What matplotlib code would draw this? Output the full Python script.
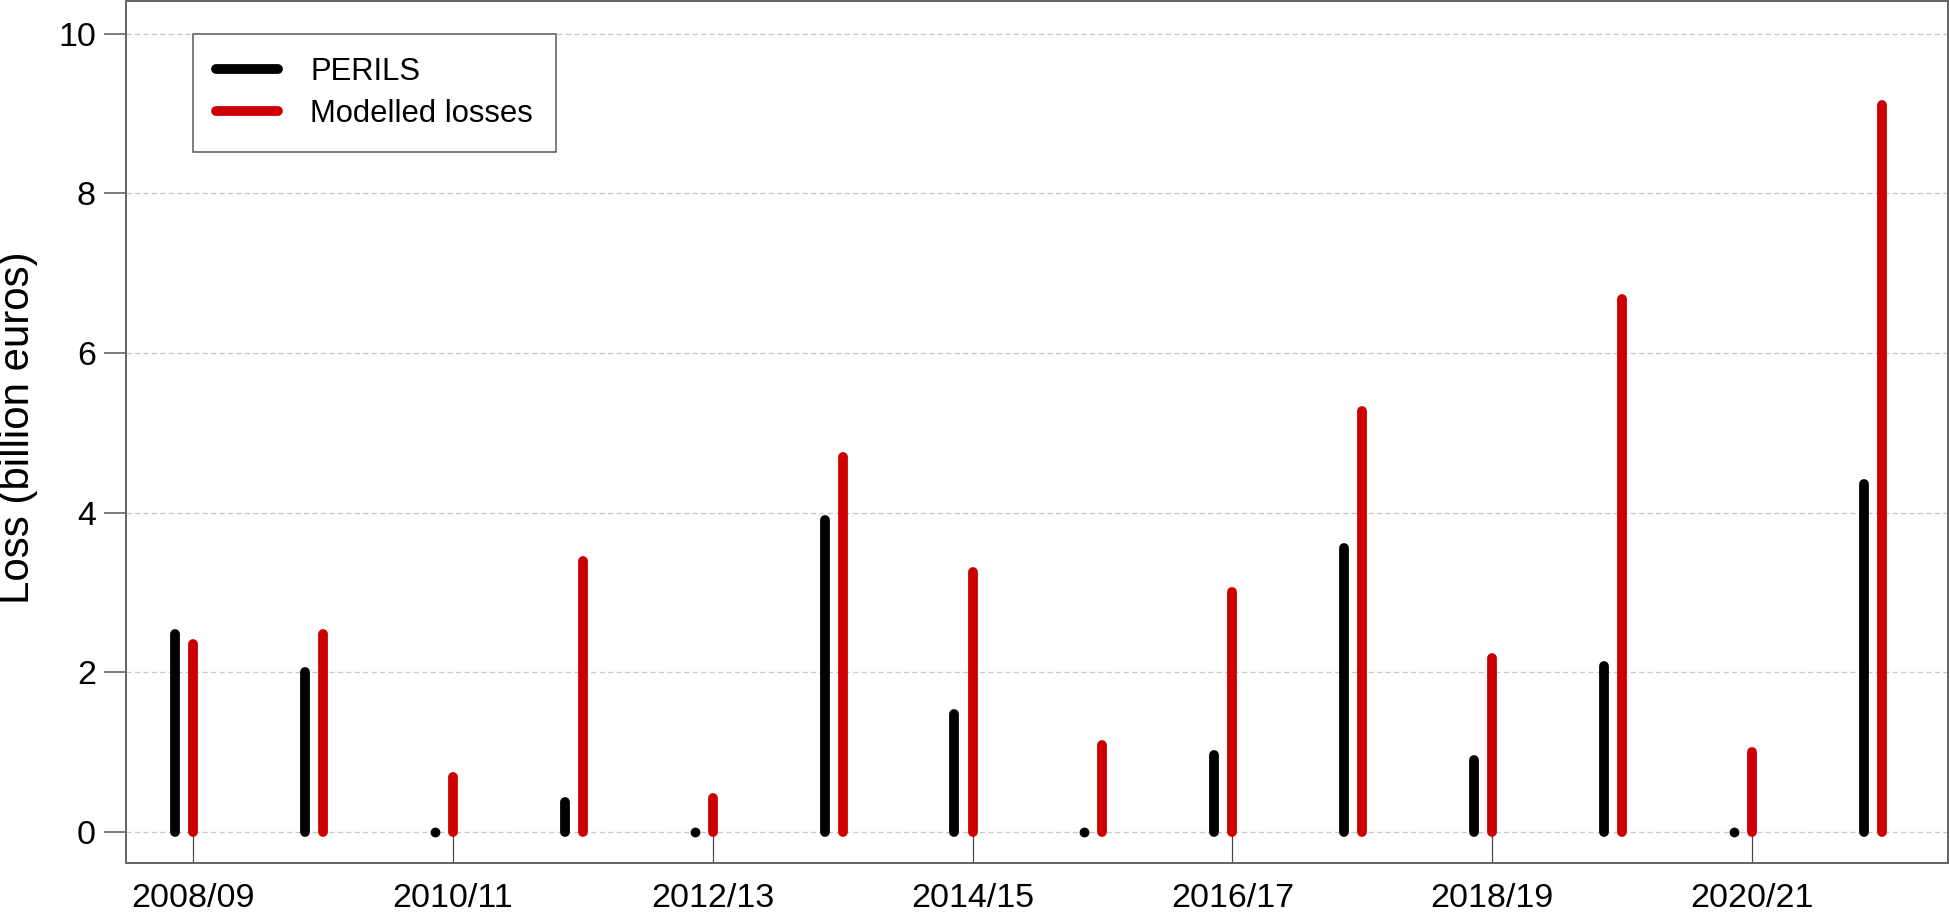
import matplotlib
matplotlib.use("Agg")
import matplotlib.pyplot as plt
import numpy as np

plt.rcParams["font.family"] = ["Liberation Sans", "DejaVu Sans"]

seasons = ["2008/09", "2009/10", "2010/11", "2011/12", "2012/13", "2013/14", "2014/15",
           "2015/16", "2016/17", "2017/18", "2018/19", "2019/20", "2020/21", "2021/22"]
perils = [2.48, 2.01, 0.0, 0.37, 0.0, 3.91, 1.48, 0.0, 0.97, 3.56, 0.90, 2.08, 0.0, 4.36]
modelled = [2.35, 2.48, 0.69, 3.40, 0.43, 4.70, 3.26, 1.09, 3.01, 5.28, 2.18, 6.68, 1.00, 9.11]

x = np.arange(len(seasons))
offset = 0.14

# 72 dpi so that 1 pt == 1 px
fig = plt.figure(figsize=(1950 / 72, 916 / 72), dpi=72)
ax = fig.add_axes([0.0646, 0.0579, 0.9344, 0.941])

for yv in range(0, 11, 2):
    ax.axhline(yv, color="#c8c8c8", lw=1.3, ls=(0, (4, 2.5)), zorder=0)

series = [(perils, x - offset, "black", "PERILS"),
          (modelled, x, "#cc0000", "Modelled losses")]
for vals, xs, col, lab in series:
    vals = np.array(vals)
    ax.vlines(xs, 0, vals, color=col, lw=9.8, capstyle="round", zorder=3)
    # zero-length lines don't render, so put a dot there instead
    zero = vals == 0
    ax.plot(xs[zero], vals[zero], "o", color=col, ms=9.8, mew=0, zorder=3)
    ax.plot([], [], color=col, lw=9.8, solid_capstyle="round", label=lab)

ax.set_xlim(-0.518, 13.51)
ax.set_ylim(-0.388, 10.41)

ax.set_xticks(x[::2])
ax.set_xticklabels(seasons[::2], fontsize=34)
ax.tick_params(axis="x", direction="in", length=31, width=1.2, color="#444444", pad=20)
ax.set_yticks(range(0, 11, 2))
ax.tick_params(axis="y", direction="out", length=22, width=1.5, color="#555555",
               labelsize=34, pad=8)

for s in ax.spines.values():
    s.set_color("#666666")
    s.set_linewidth(2)

ax.set_ylabel("Loss (billion euros)", fontsize=42)
ax.yaxis.set_label_coords(-0.0483, 0.505)

leg = ax.legend(loc="upper left", bbox_to_anchor=(0.0368, 0.9617), fontsize=31,
                frameon=True, fancybox=False, edgecolor="#555555", framealpha=1,
                handlelength=2.0, handletextpad=1.03, borderpad=0.75,
                labelspacing=0.38, borderaxespad=0)
leg.get_frame().set_linewidth(1.5)

fig.savefig("out.png", dpi=72)
